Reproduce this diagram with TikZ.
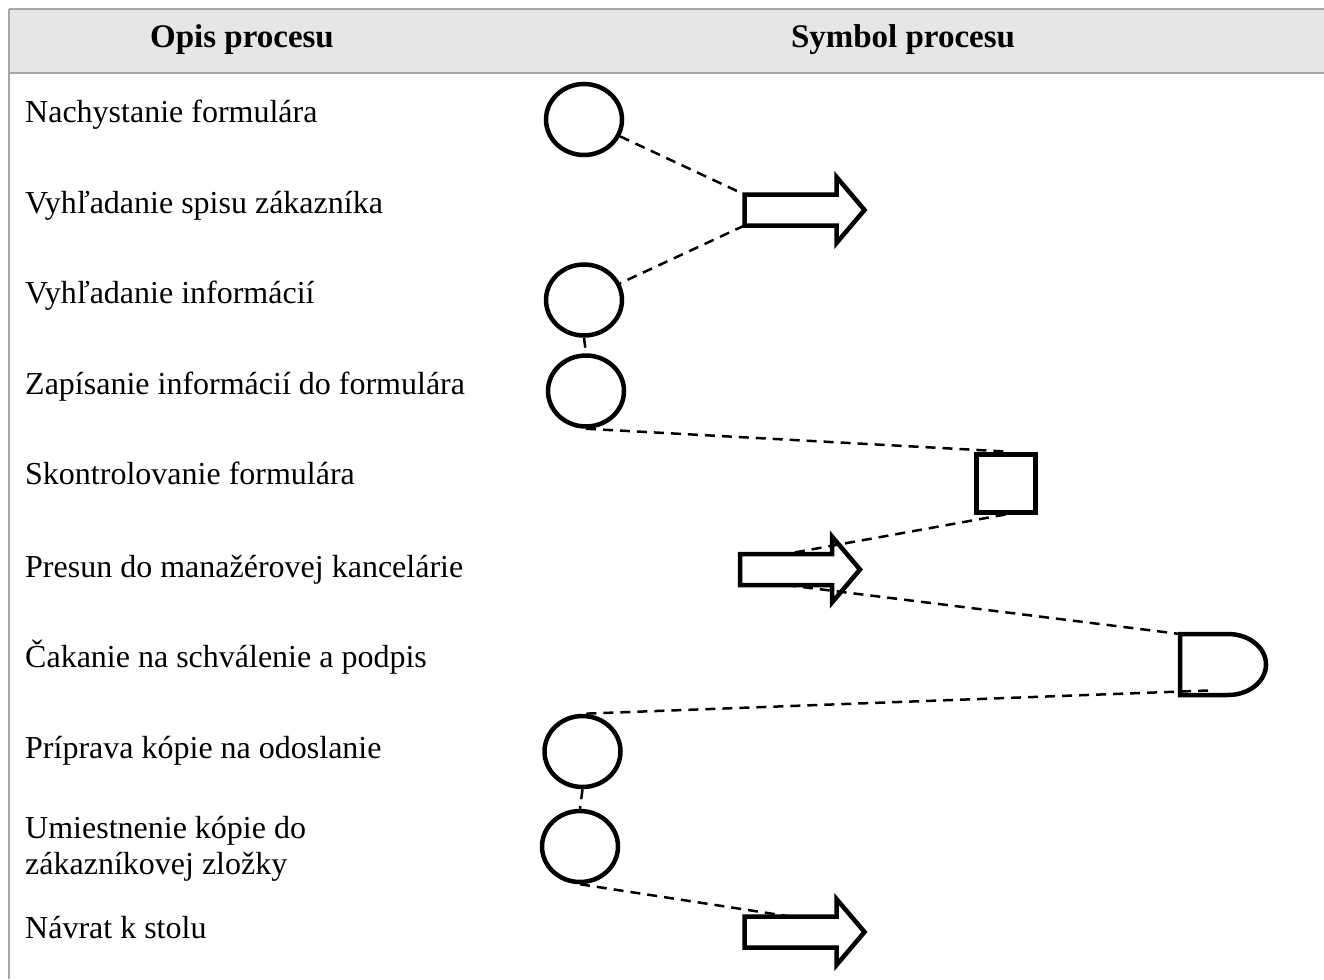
\documentclass[tikz,border=0pt]{standalone}
\usepackage{fontspec}
\setmainfont{Liberation Serif}
\usetikzlibrary{shapes.geometric}
\definecolor{headfill}{HTML}{E6E6E6}
\definecolor{rulegray}{HTML}{A6A6A6}
\tikzset{
  rowtext/.style={anchor=base west, inner sep=0pt, align=left},
  headtext/.style={anchor=base, inner sep=0pt, font=\fontsize{33}{36}\selectfont\bfseries},
  opsym/.style={draw, ellipse, line width=4.5pt, minimum width=76pt, minimum height=71pt, inner sep=0pt},
  inspsym/.style={draw, rectangle, line width=5pt, minimum width=59pt, minimum height=58pt, inner sep=0pt},
  link/.style={line width=2.5pt, dash pattern=on 10pt off 7pt},
  symline/.style={line width=4.5pt, line join=miter},
  rule/.style={draw=rulegray, line width=2.5pt},
  fatarrow/.pic={
    \draw[symline] (-46,-15.5) -- (46,-15.5) -- (46,-33) -- (74,0) -- (46,33)
      -- (46,15.5) -- (-46,15.5) -- cycle;
    \coordinate (-tl) at (-46,-15.5);
    \coordinate (-bl) at (-46,15.5);
    \coordinate (-top) at (0,-15.5);
    \coordinate (-bot) at (0,15.5);
  },
  delaysym/.pic={
    \draw[symline, line width=4.5pt] (0,-30.5) -- (48,-30.5)
      arc[start angle=-90, end angle=90, x radius=38, y radius=30.5]
      -- (0,30.5) -- cycle;
    \coordinate (-tl) at (0,-30.5);
    \coordinate (-in) at (28,26);
  }
}
\begin{document}
\begin{tikzpicture}[x=1pt, y=-1pt, font=\fontsize{32}{36}\selectfont]
\useasboundingbox (0,0) rectangle (1324,979);

% header band
\fill[headfill] (9,9) rectangle (1324,73);
\draw[rule] (9,9) -- (1324,9);
\draw[rule] (9,73) -- (1324,73);
\draw[rule] (9,9) -- (9,979);
\node[headtext] (h1) at (242,48) {Opis procesu};
\node[headtext] (h2) at (903,48) {Symbol procesu};

% process descriptions
\node[rowtext] (t1) at (25,122) {Nachystanie formulára};
\node[rowtext] (t2) at (25,213) {Vyhľadanie spisu zákazníka};
\node[rowtext] (t3) at (25,303) {Vyhľadanie informácií};
\node[rowtext] (t4) at (25,394) {Zapísanie informácií do formulára};
\node[rowtext] (t5) at (25,484) {Skontrolovanie formulára};
\node[rowtext] (t6) at (25,577) {Presun do manažérovej kancelárie};
\node[rowtext] (t7) at (25,667) {Čakanie na schválenie a podpis};
\node[rowtext] (t8) at (25,758) {Príprava kópie na odoslanie};
\node[rowtext] (t9) at (25,874) {Umiestnenie kópie do\\zákazníkovej zložky};
\node[rowtext] (t10) at (25,938) {Návrat k stolu};

% process symbols
\node[opsym] (c1) at (584,119.5) {};
\pic (a1) at (790.5,210) {fatarrow};
\node[opsym] (c2) at (584,300) {};
\node[opsym] (c3) at (586,391) {};
\node[inspsym] (sq) at (1005.5,483) {};
\pic (a2) at (786,569.5) {fatarrow};
\pic (d1) at (1180,664.5) {delaysym};
\node[opsym] (c4) at (582.5,751.5) {};
\node[opsym] (c5) at (580,846.5) {};
\pic (a3) at (790.5,932) {fatarrow};

% flow links
\draw[link] (c1) -- (a1-tl);
\draw[link] (a1-bl) -- (c2);
\draw[link] (c2.south) -- (c3.north);
\draw[link] (c3.south) -- (sq.north);
\draw[link] (sq.south) -- (a2-top);
\draw[link] (a2-bot) -- (d1-tl);
\draw[link] (d1-in) -- (c4.north);
\draw[link] (c4.south) -- (c5.north);
\draw[link] (c5.south) -- (a3-top);
\end{tikzpicture}
\end{document}
